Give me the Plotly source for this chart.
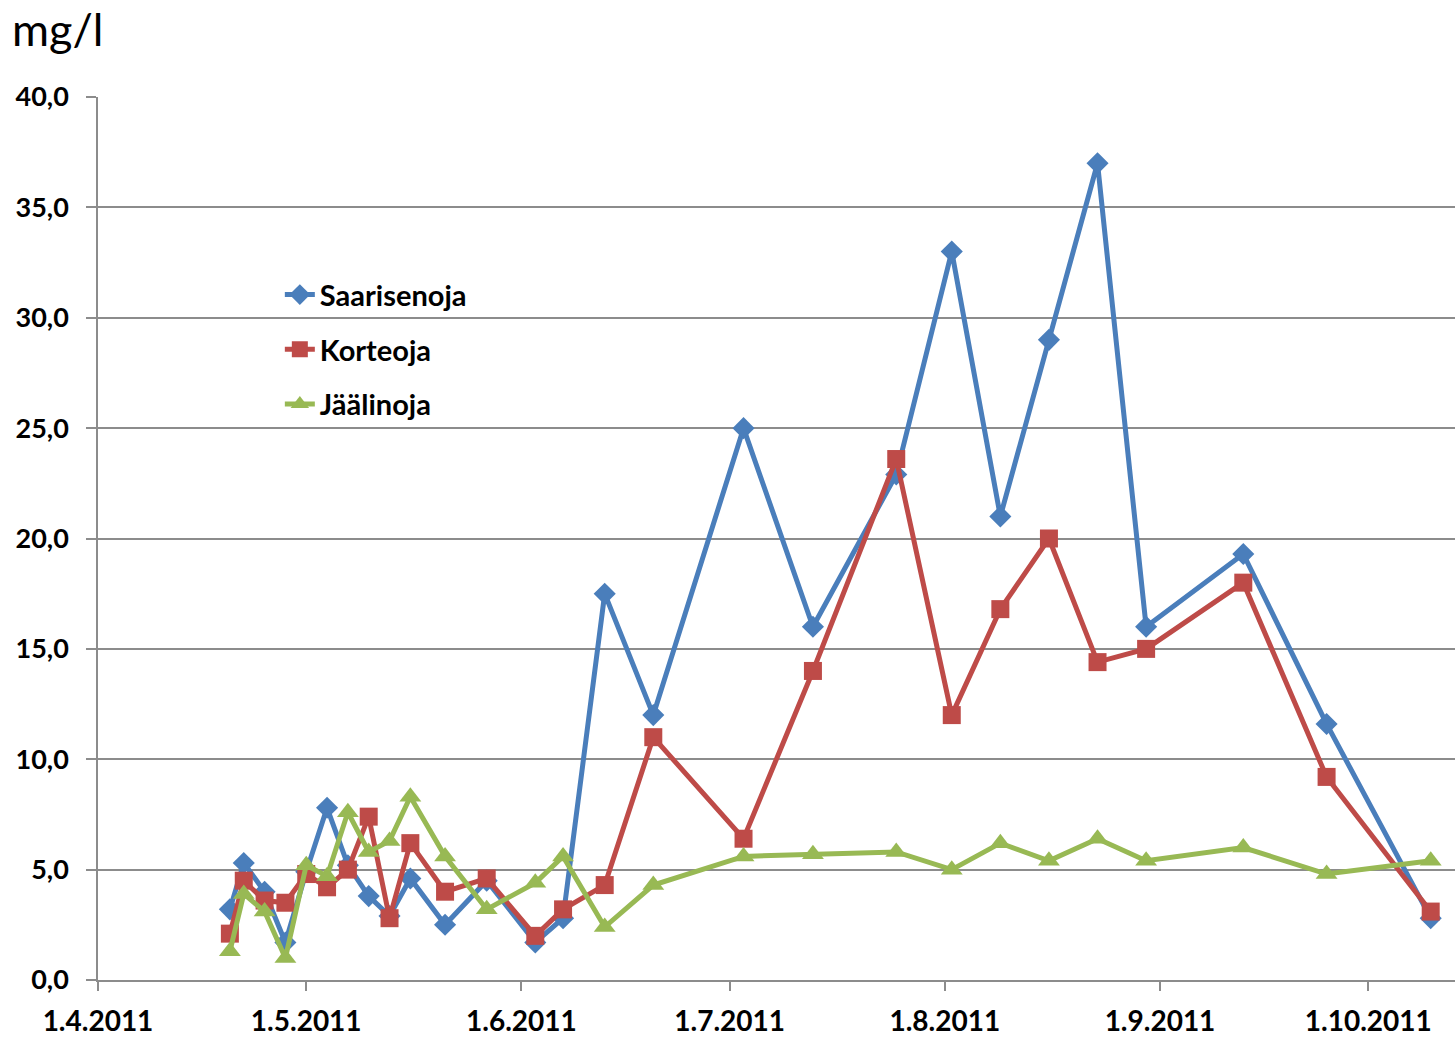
"""Pitoisuudet mg/l, kolme ojaa, huhti-lokakuu 2011."""

import plotly.graph_objects as go

dates = [
    "2011-04-20", "2011-04-22", "2011-04-25", "2011-04-28", "2011-05-01",
    "2011-05-04", "2011-05-07", "2011-05-10", "2011-05-13", "2011-05-16",
    "2011-05-21", "2011-05-27", "2011-06-03", "2011-06-07", "2011-06-13",
    "2011-06-20", "2011-07-03", "2011-07-13", "2011-07-25", "2011-08-02",
    "2011-08-09", "2011-08-16", "2011-08-23", "2011-08-30", "2011-09-13",
    "2011-09-25", "2011-10-10",
]
saarisenoja = [
    3.2, 5.3, 4.0, 1.7, 4.9, 7.8, 5.2, 3.8, 2.9, 4.6,
    2.5, 4.5, 1.7, 2.8, 17.5, 12.0, 25.0, 16.0, 22.9, 33.0,
    21.0, 29.0, 37.0, 16.0, 19.3, 11.6, 2.8,
]
korteoja = [
    2.1, 4.5, 3.6, 3.5, 4.8, 4.2, 5.0, 7.4, 2.8, 6.2,
    4.0, 4.6, 2.0, 3.2, 4.3, 11.0, 6.4, 14.0, 23.6, 12.0,
    16.8, 20.0, 14.4, 15.0, 18.0, 9.2, 3.1,
]
jaalinoja = [
    1.3, 3.9, 3.1, 1.0, 5.2, 4.7, 7.6, 5.8, 6.3, 8.3,
    5.6, 3.2, 4.4, 5.6, 2.4, 4.3, 5.6, 5.7, 5.8, 5.0,
    6.2, 5.4, 6.4, 5.4, 6.0, 4.8, 5.4,
]
month_ticks = [
    "2011-04-01", "2011-05-01", "2011-06-01", "2011-07-01",
    "2011-08-01", "2011-09-01", "2011-10-01",
]

FONT = "Lato"
GRID = "#8c8c8c"

series = [
    ("Saarisenoja", saarisenoja, "#4a7ebb", "diamond", 17),
    ("Korteoja", korteoja, "#be4b48", "square", 18),
    ("Jäälinoja", jaalinoja, "#98b954", "triangle-up", 19),
]

fig = go.Figure()
for i, (name, values, color, symbol, size) in enumerate(series):
    fig.add_trace(
        go.Scatter(
            x=dates,
            y=values,
            name=name,
            mode="lines+markers",
            line={"color": color, "width": 5},
            marker={"symbol": symbol, "size": size, "color": color},
            legendgroup=f"g{i}",
        )
    )

fig.update_layout(
    width=1455,
    height=1037,
    margin={"l": 98, "r": 0, "t": 97, "b": 57},
    paper_bgcolor="white",
    plot_bgcolor="white",
    separators=", ",
    font={"family": FONT, "color": "black"},
    legend={
        "x": 0.134,
        "y": 0.805,
        "xanchor": "left",
        "yanchor": "top",
        "font": {"size": 29, "family": FONT, "weight": "bold"},
        "bgcolor": "rgba(0,0,0,0)",
        "tracegroupgap": 14,
    },
    annotations=[
        {
            "text": "mg/l",
            "xref": "paper",
            "yref": "paper",
            "x": -0.065,
            "y": 1.077,
            "xanchor": "left",
            "yanchor": "middle",
            "showarrow": False,
            "font": {"size": 45, "family": FONT},
        }
    ],
)
fig.update_xaxes(
    type="date",
    range=["2011-04-01", "2011-10-13 12:00"],
    tickvals=month_ticks,
    tickformat="%-d.%-m.%Y",
    tickfont={"size": 28, "family": FONT, "weight": "bold"},
    ticks="outside",
    ticklen=9,
    tickcolor=GRID,
    tickwidth=1.5,
    ticklabelstandoff=6,
    showline=True,
    linecolor=GRID,
    linewidth=2,
    showgrid=False,
    zeroline=False,
)
fig.update_yaxes(
    range=[0, 40],
    dtick=5,
    tickformat=".1f",
    tickfont={"size": 27, "family": FONT, "weight": "bold"},
    ticks="outside",
    ticklen=10,
    tickcolor=GRID,
    tickwidth=1.5,
    ticklabelstandoff=12,
    showline=True,
    linecolor=GRID,
    linewidth=1.5,
    showgrid=True,
    gridcolor=GRID,
    gridwidth=1.5,
    zeroline=False,
)

fig.write_html(
    "out.html",
    config={"displayModeBar": False},
    post_script="document.body.style.margin = '0';",
)
